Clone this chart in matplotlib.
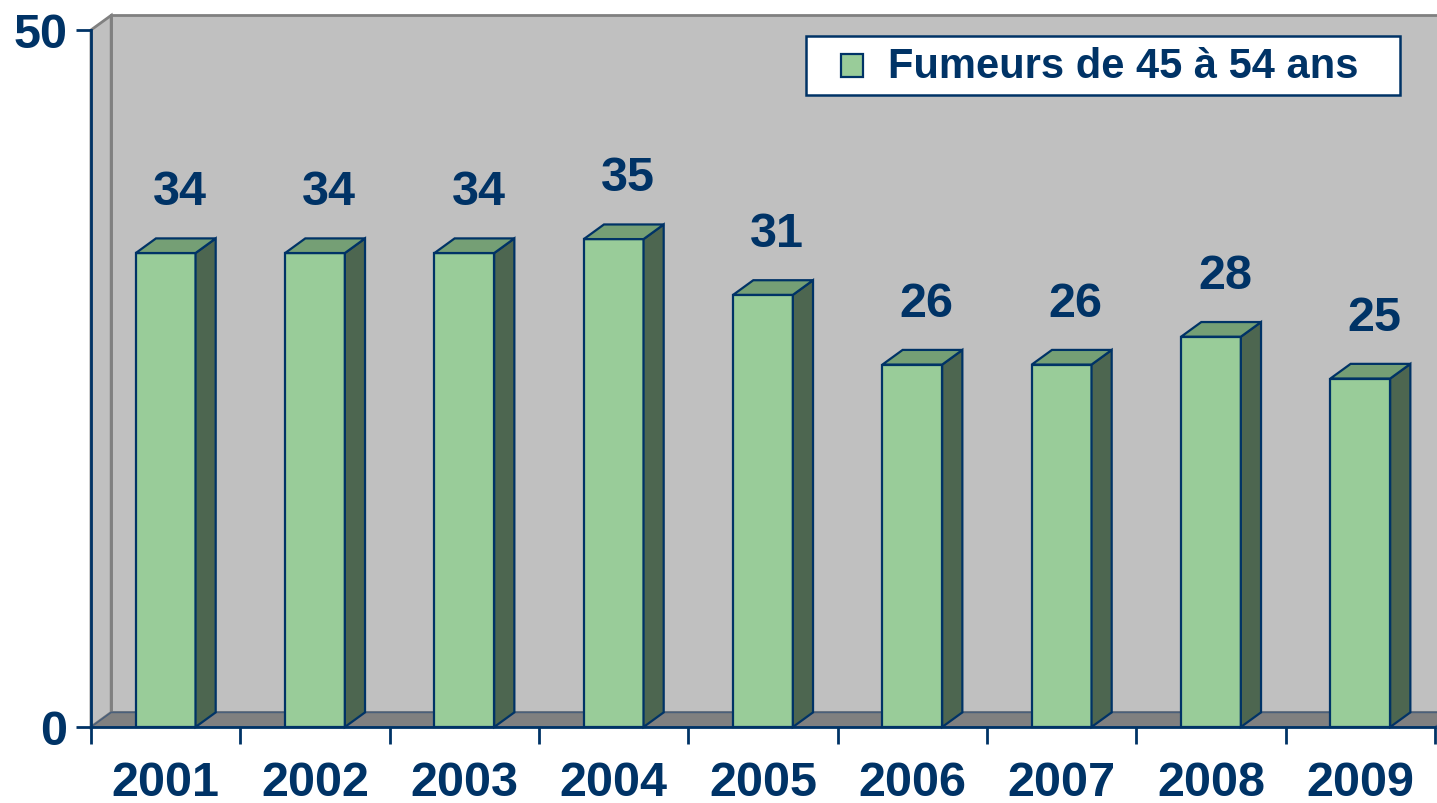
import matplotlib.pyplot as plt
from matplotlib.patches import Polygon, Rectangle

years = ["2001", "2002", "2003", "2004", "2005", "2006", "2007", "2008", "2009"]
fumeurs = [34, 34, 34, 35, 31, 26, 26, 28, 25]
serie = "Fumeurs de 45 à 54 ans"

navy = "#003366"
front_col = "#99CC99"
side_col = "#4D6650"
top_col = "#759F75"
wall_col = "#C0C0C0"
floor_col = "#808080"

plt.rcParams["font.family"] = ["Liberation Sans", "DejaVu Sans"]
plt.rcParams["font.weight"] = "bold"

W, H = 1437, 804
fig = plt.figure(figsize=(W / 100, H / 100), dpi=100)
ax = fig.add_axes([91 / W, 76 / H, 1344 / W, 697 / H])

n = len(years)
ymax = 50
dx, dy = 0.135, 1.05  # depth offset (category units, value units)

ax.set_xlim(0, n)
ax.set_ylim(0, ymax)

# walls and floor
ax.add_patch(Polygon([(dx, dy), (n + dx, dy), (n + dx, ymax + dy), (dx, ymax + dy)],
                     closed=True, fc=wall_col, ec="#808080", lw=2, clip_on=False, zorder=0))
ax.add_patch(Polygon([(0, 0), (dx, dy), (dx, ymax + dy), (0, ymax)],
                     closed=True, fc=wall_col, ec="#808080", lw=2, clip_on=False, zorder=0))
ax.add_patch(Polygon([(0, 0), (n, 0), (n + dx, dy), (dx, dy)],
                     closed=True, fc=floor_col, ec="#4A5F7A", lw=1.2, clip_on=False, zorder=1))

# bars
w = 0.4
for i, v in enumerate(fumeurs):
    x0 = i + 0.5 - w / 2
    x1 = x0 + w
    kw = dict(closed=True, ec=navy, lw=1.6, joinstyle="miter", clip_on=False, zorder=3)
    ax.add_patch(Polygon([(x0, 0), (x1, 0), (x1, v), (x0, v)], fc=front_col, **kw))
    ax.add_patch(Polygon([(x1, 0), (x1 + dx, dy), (x1 + dx, v + dy), (x1, v)], fc=side_col, **kw))
    ax.add_patch(Polygon([(x0, v), (x1, v), (x1 + dx, v + dy), (x0 + dx, v + dy)], fc=top_col, **kw))
    ax.text(i + 0.5 + dx * 0.7, v + 4.4, str(v), ha="center", va="center",
            fontsize=35, fontweight="bold", color=navy, zorder=4)

# axes styling
for s in ["top", "right"]:
    ax.spines[s].set_visible(False)
for s in ["left", "bottom"]:
    ax.spines[s].set_color(navy)
    ax.spines[s].set_linewidth(2)
    ax.spines[s].set_zorder(5)

ax.set_yticks([0, ymax])
ax.set_yticklabels(["0", "50"])
ax.tick_params(axis="y", length=11, width=2, color=navy, labelcolor=navy,
               labelsize=35, pad=6)
ax.set_xticks(range(n + 1))
ax.set_xticklabels([])
ax.set_xticks([i + 0.5 for i in range(n)], minor=True)
ax.set_xticklabels(years, minor=True)
ax.tick_params(axis="x", which="major", length=12, width=2, color=navy)
ax.tick_params(axis="x", which="minor", length=0, labelcolor=navy,
               labelsize=35, pad=24)
for lab in ax.get_xticklabels(minor=True) + ax.get_yticklabels():
    lab.set_fontweight("bold")

# legend box (drawn by hand to match the wide padding)
fig.patches.append(Rectangle((806 / W, 1 - 96 / H), 594 / W, 59 / H,
                             transform=fig.transFigure, fc="white", ec=navy, lw=1.8, zorder=6))
fig.patches.append(Rectangle((841 / W, 1 - 78 / H), 22 / W, 23 / H,
                             transform=fig.transFigure, fc=front_col, ec=navy, lw=1.6, zorder=7))
fig.text(888 / W, 1 - 67 / H, serie, ha="left", va="center", fontsize=30,
         fontweight="bold", color=navy, zorder=8)

fig.savefig("out.png", dpi=100)
